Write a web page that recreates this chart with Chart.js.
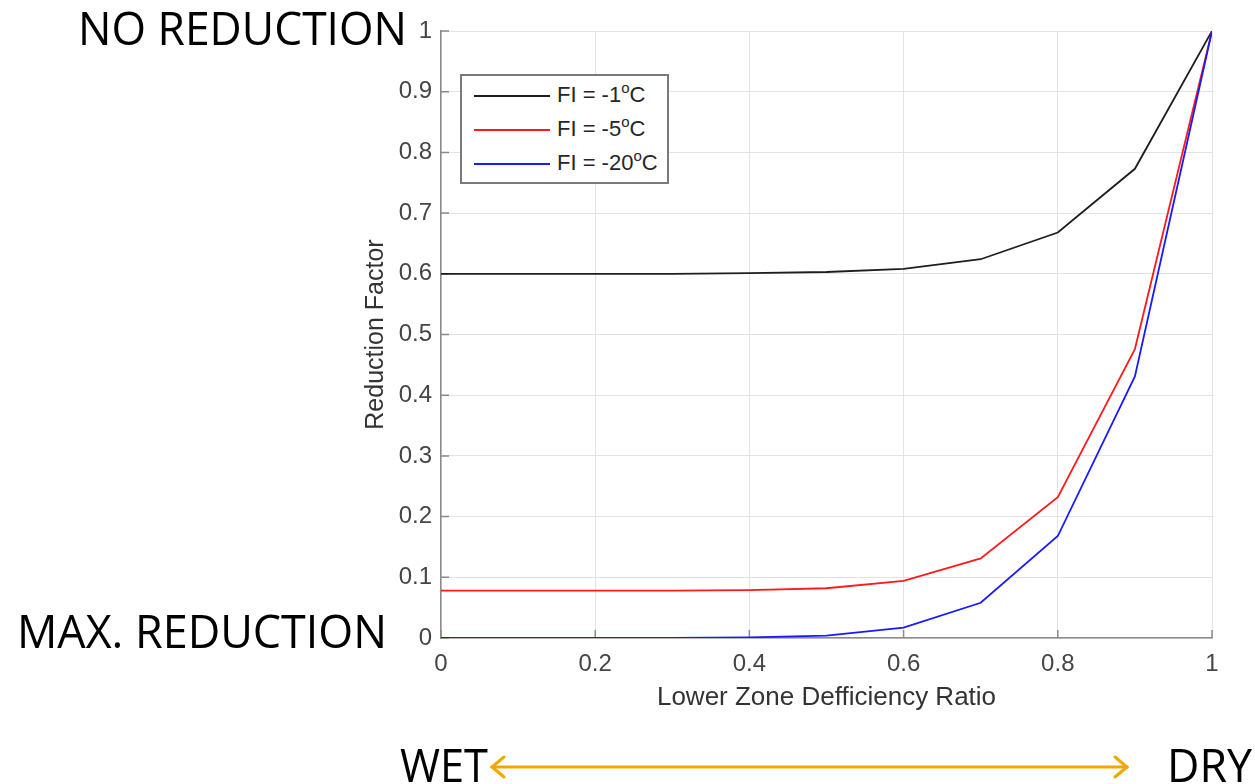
<!DOCTYPE html>
<html>
<head>
<meta charset="utf-8">
<script src="https://cdn.jsdelivr.net/npm/chart.js@4.4.1/dist/chart.umd.min.js"></script>
<style>
  body { margin: 0; background: #fff; }
  #wrap { position: relative; width: 1255px; height: 784px; overflow: hidden; }
  #chart { position: absolute; left: 0; top: 0; }
  #notes { position: absolute; left: 0; top: 0; pointer-events: none; }
  #legend {
    position: absolute; left: 460px; top: 74px; width: 205px; height: 106px;
    border: 2px solid #7a7a7a; background: #fff;
    font-family: "Liberation Sans", Arial, sans-serif; font-size: 22px; color: #262626;
  }
  .row { position: absolute; left: 0; height: 34px; width: 100%; }
  .swatch { position: absolute; left: 12px; top: 16px; width: 76px; height: 2px; }
  .label { position: absolute; left: 95px; top: 3px; line-height: 26px; white-space: nowrap; }
  .label sup { font-size: 15px; position: relative; top: -2px; vertical-align: 7px; line-height: 0; }
</style>
</head>
<body>
<div id="wrap">
  <canvas id="chart" width="1255" height="784"></canvas>
  <div id="legend"></div>
  <svg id="notes" width="1255" height="784">
    <g font-family="Open Sans, sans-serif" font-size="45" fill="#000" lengthAdjust="spacingAndGlyphs">
      <text x="78" y="45" textLength="329" lengthAdjust="spacingAndGlyphs">NO REDUCTION</text>
      <text x="17" y="648" textLength="370" lengthAdjust="spacingAndGlyphs">MAX. REDUCTION</text>
      <text x="400" y="782" textLength="88" lengthAdjust="spacingAndGlyphs">WET</text>
      <text x="1167" y="782" textLength="85" lengthAdjust="spacingAndGlyphs">DRY</text>
    </g>
    <g stroke="#f0a800" stroke-width="3" fill="none" stroke-linecap="round">
      <line x1="492" y1="767" x2="1127" y2="767"/>
      <polyline points="504,757 492,767 504,777"/>
      <polyline points="1115,757 1127,767 1115,777"/>
    </g>
  </svg>
</div>
<script>
// Lower zone deficiency ratio (x) and reduction factor for each frost index
const ratio = [0, 0.1, 0.2, 0.3, 0.4, 0.5, 0.6, 0.7, 0.8, 0.9, 1.0];
const fiMinus1 = [0.600, 0.600, 0.600, 0.600, 0.601, 0.603, 0.608, 0.624, 0.668, 0.773, 1.0];
const fiMinus5 = [0.078, 0.078, 0.078, 0.078, 0.079, 0.082, 0.094, 0.131, 0.232, 0.476, 1.0];
const fiMinus20 = [0.000, 0.000, 0.000, 0.000, 0.001, 0.004, 0.017, 0.058, 0.168, 0.431, 1.0];

const seriesTemps = ["-1", "-5", "-20"];
const seriesColors = ["#1e1e1e", "#ff1a1a", "#1a1aff"];

const xTickLabels = ["0", "0.2", "0.4", "0.6", "0.8", "1"];
const yTickLabels = ["0", "0.1", "0.2", "0.3", "0.4", "0.5", "0.6", "0.7", "0.8", "0.9", "1"];

const axisColor = "#8a8a8a";
const gridColor = "#e3e3e3";
const font = "'Liberation Sans', Arial, Helvetica, sans-serif";

function toPoints(ys) {
  return ratio.map((x, i) => ({ x: x, y: ys[i] }));
}

// MATLAB style ticks pointing into the plot
const innerTicks = {
  id: "innerTicks",
  beforeDatasetsDraw(chart) {
    const { ctx, chartArea: a, scales: { x, y } } = chart;
    ctx.save();
    ctx.strokeStyle = axisColor;
    ctx.lineWidth = 1.5;
    ctx.beginPath();
    y.ticks.forEach(t => {
      const py = y.getPixelForValue(t.value);
      ctx.moveTo(a.left, py);
      ctx.lineTo(a.left + 8, py);
    });
    x.ticks.forEach(t => {
      const px = x.getPixelForValue(t.value);
      ctx.moveTo(px, a.bottom);
      ctx.lineTo(px, a.bottom - 8);
    });
    ctx.stroke();
    ctx.restore();
  }
};

const allSeries = [fiMinus1, fiMinus5, fiMinus20];

new Chart(document.getElementById("chart"), {
  type: "line",
  data: {
    datasets: allSeries.map((s, i) => ({
      label: "FI = " + seriesTemps[i] + "oC",
      data: toPoints(s),
      borderColor: seriesColors[i],
      borderWidth: 1.8,
      pointRadius: 0,
      tension: 0,
      fill: false,
      order: 3 - i
    }))
  },
  options: {
    responsive: false,
    animation: false,
    layout: { padding: { left: 355, right: 43, top: 31, bottom: 0 } },
    plugins: {
      legend: { display: false },
      tooltip: { enabled: false }
    },
    scales: {
      x: {
        type: "linear",
        min: 0,
        max: 1,
        afterFit: s => { s.height = 146; },
        ticks: {
          stepSize: 0.2,
          padding: 12,
          color: "#454545",
          font: { family: font, size: 24 },
          maxRotation: 0,
          callback: (v, i) => xTickLabels[i]
        },
        grid: { color: gridColor, drawTicks: false },
        border: { color: axisColor, width: 1.5 },
        title: {
          display: true,
          text: "Lower Zone Defficiency Ratio",
          color: "#333",
          font: { family: font, size: 26 },
          padding: { top: 0, bottom: 71 }
        }
      },
      y: {
        min: 0,
        max: 1,
        afterFit: s => { s.width = 86; },
        ticks: {
          stepSize: 0.1,
          padding: 9,
          color: "#454545",
          font: { family: font, size: 24 },
          callback: (v, i) => yTickLabels[i]
        },
        grid: { color: gridColor, drawTicks: false },
        border: { color: axisColor, width: 1.5 },
        title: {
          display: true,
          text: "Reduction Factor",
          color: "#333",
          font: { family: font, size: 25 },
          padding: { top: 6, bottom: 0 }
        }
      }
    }
  },
  plugins: [innerTicks]
});

// legend box with superscript "o"
const legend = document.getElementById("legend");
seriesTemps.forEach((t, i) => {
  const row = document.createElement("div");
  row.className = "row";
  row.style.top = (3 + i * 34) + "px";
  row.innerHTML = '<div class="swatch" style="background:' + seriesColors[i] + '"></div>' +
    '<div class="label">FI = ' + t + '<sup>o</sup>C</div>';
  legend.appendChild(row);
});
</script>
</body>
</html>
